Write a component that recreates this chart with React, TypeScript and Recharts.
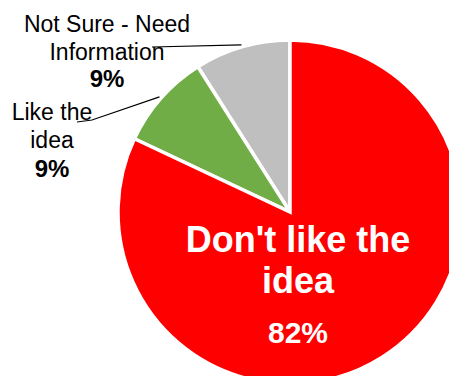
import React from 'react';
import { PieChart, Pie, Cell } from 'recharts';

// slices go counter-clockwise from 12 o'clock
const CATEGORIES = ['Not Sure - Need\nInformation', 'Like the\nidea', "Don't like the\nidea"];
const VALUES = [9, 9, 82];
const COLORS = ['#BFBFBF', '#70AD47', '#FF0000'];

const data = CATEGORIES.map((name, i) => ({ name, value: VALUES[i] }));
const total = VALUES.reduce((a, b) => a + b, 0);

const FONT = '"Liberation Sans", Arial, Helvetica, sans-serif';
const RADIAN = Math.PI / 180;

// label placement relative to the pie centre
const LABEL_LAYOUT = [
  { dx: -183, lineY: [-180, -152, -125], size: 23, pctSize: 24, color: '#000', bold: false, leader: [[-138, -165]] },
  { dx: -238, lineY: [-92, -64, -35], size: 23, pctSize: 24, color: '#000', bold: false, leader: [[-198, -92], [-213, -90]] },
  { dx: 8, lineY: [40, 81, 131], size: 36, pctSize: 30, color: '#fff', bold: true, leader: null },
];

const renderLabel = (props: any) => {
  const { cx, cy, midAngle, outerRadius, index, value } = props;
  const layout = LABEL_LAYOUT[index];
  const lines = CATEGORIES[index].split('\n');
  const pct = `${Math.round((value / total) * 100)}%`;
  const x = cx + layout.dx;

  let leader = null;
  if (layout.leader) {
    const sx = cx + (outerRadius + 2) * Math.cos(-midAngle * RADIAN);
    const sy = cy + (outerRadius + 2) * Math.sin(-midAngle * RADIAN);
    const pts = [[sx, sy], ...layout.leader.map(([px, py]) => [cx + px, cy + py])];
    leader = (
      <polyline
        points={pts.map((p) => p.join(',')).join(' ')}
        fill="none"
        stroke="#000"
        strokeWidth={1.2}
      />
    );
  }

  return (
    <g key={`label-${index}`}>
      {leader}
      {lines.map((line, i) => (
        <text
          key={i}
          x={x}
          y={cy + layout.lineY[i]}
          textAnchor="middle"
          fill={layout.color}
          fontSize={layout.size}
          fontWeight={layout.bold ? 'bold' : 'normal'}
          fontFamily={FONT}
        >
          {line}
        </text>
      ))}
      <text
        x={x}
        y={cy + layout.lineY[2]}
        textAnchor="middle"
        fill={layout.color}
        fontSize={layout.pctSize}
        fontWeight="bold"
        fontFamily={FONT}
      >
        {pct}
      </text>
    </g>
  );
};

export default function App() {
  return (
    <div style={{ position: 'absolute', left: 0, top: 0, width: 449, height: 376, background: '#fff' }}>
      <PieChart width={449} height={376} margin={{ top: 0, right: 0, bottom: 0, left: 0 }}>
        <Pie
          data={data}
          dataKey="value"
          nameKey="name"
          cx={290}
          cy={212}
          outerRadius={172}
          startAngle={90}
          endAngle={450}
          stroke="#fff"
          strokeWidth={3.5}
          label={renderLabel}
          labelLine={false}
          isAnimationActive={false}
        >
          {data.map((entry, i) => (
            <Cell key={`cell-${i}`} fill={COLORS[i]} />
          ))}
        </Pie>
      </PieChart>
    </div>
  );
}
